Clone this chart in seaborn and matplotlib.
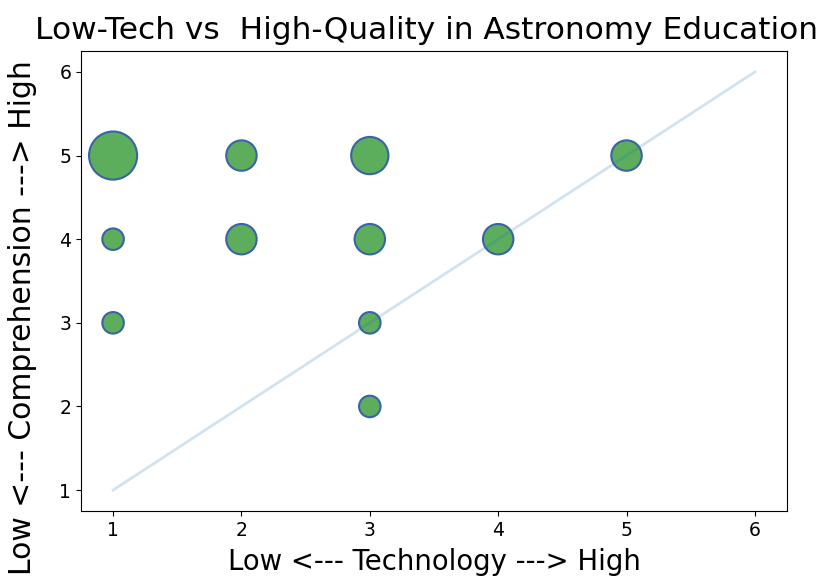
import numpy as np
import pandas as pd
import matplotlib
matplotlib.use("Agg")
import matplotlib.pyplot as plt
import seaborn as sns

# Survey responses: technology level vs comprehension, bubble = number of answers
technology = [1, 2, 3, 5, 1, 2, 3, 4, 1, 3, 3]
comprehension = [5, 5, 5, 5, 4, 4, 4, 4, 3, 3, 2]
counts = [5, 2, 3, 2, 1, 2, 2, 2, 1, 1, 1]

# reference diagonal
diag = [1, 2, 3, 4, 5, 6]

df = pd.DataFrame({"tech": technology, "comp": comprehension, "n": counts})

fig, ax = plt.subplots(figsize=(8.35, 5.85), dpi=100)
fig.subplots_adjust(left=0.097, right=0.9425, bottom=0.1265, top=0.9128)

sns.scatterplot(data=df, x="tech", y="comp", size="n", sizes=(240, 1200),
                size_norm=(1, 5), color="#5cad5c", edgecolor="#3a63a8",
                linewidth=1.5, legend=False, ax=ax)
sns.lineplot(x=diag, y=diag, color="#1f77b4", alpha=0.2, linewidth=2, ax=ax)

ax.set_xticks(diag)
ax.set_yticks(diag)
ax.tick_params(labelsize=13.5)
ax.set_xlabel("Low <--- Technology ---> High", fontsize=19.8, labelpad=6)
ax.set_ylabel("Low <--- Comprehension ---> High", fontsize=21.5)
ax.yaxis.set_label_coords(-0.063, 0.42)
ax.set_title("Low-Tech vs  High-Quality in Astronomy Education", fontsize=22.5,
             pad=9, x=0.489)

fig.savefig("out.png", dpi=100)
